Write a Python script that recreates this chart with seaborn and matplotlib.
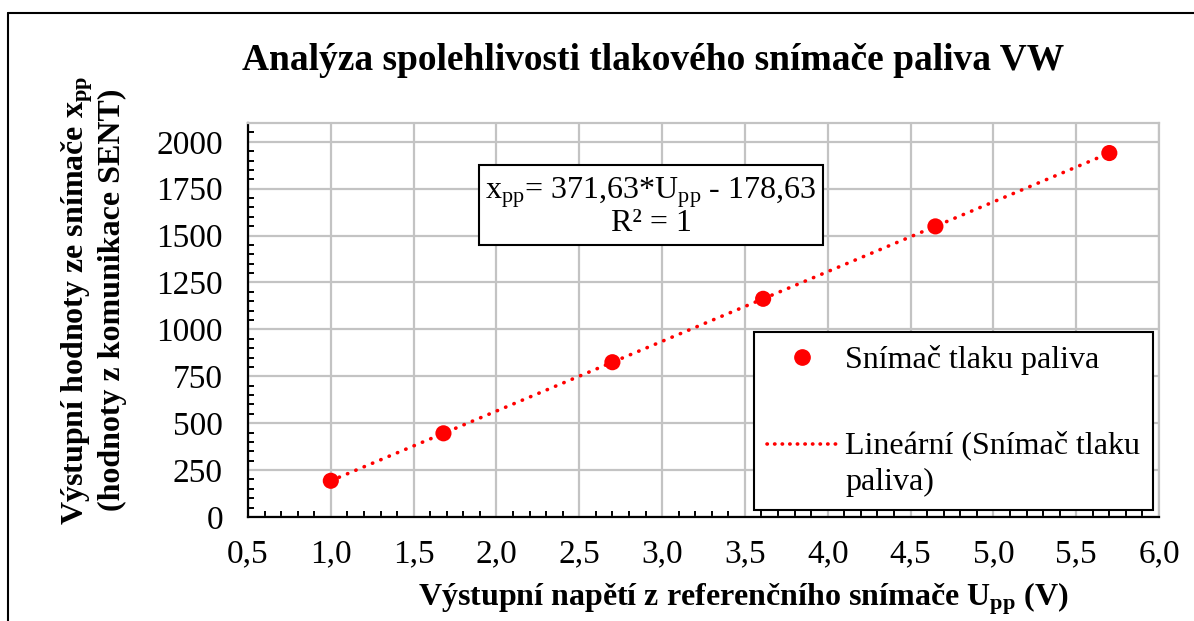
import numpy as np
import matplotlib
matplotlib.use("Agg")
import matplotlib.pyplot as plt
import matplotlib.ticker as mticker
from matplotlib.lines import Line2D
from matplotlib.legend_handler import HandlerLine2D
import seaborn as sns


# ==========================================================
# DATA
# ==========================================================

napeti_u = [1.00, 1.68, 2.70, 3.61, 4.65, 5.70]
hodnoty_x = [193, 446, 825, 1163, 1549, 1940]

x_ticks = [0.5, 1.0, 1.5, 2.0, 2.5, 3.0, 3.5, 4.0, 4.5, 5.0, 5.5, 6.0]
y_ticks = [0, 250, 500, 750, 1000, 1250, 1500, 1750, 2000]

nazev_bodu = "Snímač tlaku paliva"
nazev_trendu = "Lineární (Snímač tlaku\npaliva)"


# ==========================================================
# LEGEND HANDLER (line at first text row)
# ==========================================================

class HandlerTopLine(HandlerLine2D):

    def __init__(self, shift=14, **kw):
        super().__init__(**kw)
        self.shift = shift

    def create_artists(self, legend, orig_handle, xdescent, ydescent,
                       width, height, fontsize, trans):
        arts = super().create_artists(
            legend, orig_handle, xdescent, ydescent,
            width, height, fontsize, trans
        )
        for a in arts:
            a.set_ydata(np.asarray(a.get_ydata()) + self.shift)
        return arts


# ==========================================================
# STYLE
# ==========================================================

sns.set_style("white")

plt.rcParams["font.family"] = ["Liberation Serif", "DejaVu Serif"]
plt.rcParams["mathtext.fontset"] = "custom"
plt.rcParams["mathtext.rm"] = "Liberation Serif"
plt.rcParams["mathtext.it"] = "Liberation Serif:italic"
plt.rcParams["mathtext.bf"] = "Liberation Serif:bold"
plt.rcParams["text.color"] = "black"
plt.rcParams["axes.labelcolor"] = "black"
plt.rcParams["xtick.color"] = "black"
plt.rcParams["ytick.color"] = "black"

grid_color = "#c3c3c3"
red = "#ff0000"

fig = plt.figure(
    figsize=(11.94, 6.21),
    dpi=100
)

ax = fig.add_axes(
    [0.2077, 0.1675, 0.763, 0.6344]
)


# ==========================================================
# MARKS
# ==========================================================

sns.scatterplot(
    x=napeti_u,
    y=hodnoty_x,
    color=red,
    s=135,
    edgecolor="none",
    zorder=4,
    ax=ax
)

sns.regplot(
    x=np.array(napeti_u),
    y=np.array(hodnoty_x),
    scatter=False,
    ci=None,
    truncate=True,
    color=red,
    line_kws=dict(
        lw=2.6,
        linestyle=(0, (0.1, 2.4)),
        dash_capstyle="round",
        zorder=3
    ),
    ax=ax
)


# ==========================================================
# AXES
# ==========================================================

ax.set_xlim(0.5, 6.0)
ax.set_ylim(0, 2100)

ax.set_xticks(x_ticks)
ax.set_yticks(y_ticks)

ax.xaxis.set_minor_locator(mticker.MultipleLocator(0.1))
ax.yaxis.set_minor_locator(mticker.MultipleLocator(50))

ax.xaxis.set_major_formatter(
    mticker.FuncFormatter(lambda v, p: f"{v:.1f}".replace(".", ","))
)

ax.grid(True, which="major", color=grid_color, lw=1.6)
ax.set_axisbelow(True)

for side in ["left", "bottom"]:
    ax.spines[side].set_color("black")
    ax.spines[side].set_linewidth(1.6)

for side in ["top", "right"]:
    ax.spines[side].set_color(grid_color)
    ax.spines[side].set_linewidth(1.6)

ax.tick_params(
    which="major",
    direction="in",
    length=7,
    width=1.4,
    labelsize=24,
    labelcolor="black",
    top=False,
    right=False,
    color="black"
)
ax.tick_params(
    which="minor",
    direction="in",
    length=4.5,
    width=1.4,
    top=False,
    right=False,
    color="black",
    bottom=True,
    left=True
)
ax.tick_params(axis="x", which="major", pad=16)
ax.tick_params(axis="y", which="major", pad=18)

ax.set_xlabel("")
ax.set_ylabel("")


# ==========================================================
# TEXTS
# ==========================================================

fig.text(
    653 / 1194, 1 - 61 / 621,
    "Analýza spolehlivosti tlakového snímače paliva VW",
    ha="center", va="center",
    fontsize=27, fontweight="bold"
)

fig.text(
    743 / 1194, 1 - 599 / 621,
    r"Výstupní napětí z referenčního snímače $\mathbf{U}_{\mathbf{pp}}$ (V)",
    ha="center", va="center",
    fontsize=23, fontweight="bold"
)

fig.text(
    93 / 1194, 1 - 300 / 621,
    "Výstupní hodnoty ze snímače $\\mathbf{x}_{\\mathbf{pp}}$\n"
    "(hodnoty z komunikace SENT)",
    ha="center", va="center",
    rotation=90,
    multialignment="center",
    fontsize=23, fontweight="bold",
    linespacing=1.12
)

fig.text(
    651 / 1194, 1 - 207 / 621,
    "x$_{\\mathrm{pp}}$= 371,63*U$_{\\mathrm{pp}}$ - 178,63\nR² = 1",
    ha="center", va="center",
    multialignment="center",
    fontsize=23,
    linespacing=0.95,
    bbox=dict(
        boxstyle="square,pad=0.2",
        fc="white",
        ec="black",
        lw=1.5
    ),
    zorder=6
)


# ==========================================================
# LEGEND
# ==========================================================

bod_handle = Line2D([], [], marker="o", color=red, linestyle="none",
                    markersize=11)
trend_handle = Line2D([], [], color=red, lw=2.6,
                      linestyle=(0, (0.1, 2.0)),
                      dash_capstyle="round")

leg = ax.legend(
    [bod_handle, trend_handle],
    [nazev_bodu, nazev_trendu],
    loc="upper left",
    bbox_to_anchor=(754 / 1194, 1 - 332 / 621),
    bbox_transform=fig.transFigure,
    borderaxespad=0,
    fontsize=23,
    frameon=True,
    fancybox=False,
    framealpha=1,
    edgecolor="black",
    handlelength=2.2,
    handletextpad=0.25,
    borderpad=0.4,
    labelspacing=1.75,
    handler_map={trend_handle: HandlerTopLine(shift=14)}
)
leg.get_frame().set_linewidth(1.5)

for t in leg.get_texts():
    t.set_linespacing(1.35)
    t.set_color("black")


# ==========================================================
# OUTER BORDER
# ==========================================================

fig.add_artist(
    Line2D([8 / 1194, 8 / 1194], [0, 1 - 13 / 621],
           transform=fig.transFigure, color="black", lw=1.5)
)
fig.add_artist(
    Line2D([8 / 1194, 1], [1 - 13 / 621, 1 - 13 / 621],
           transform=fig.transFigure, color="black", lw=1.5)
)

fig.savefig("out.png", dpi=100)
plt.close(fig)
